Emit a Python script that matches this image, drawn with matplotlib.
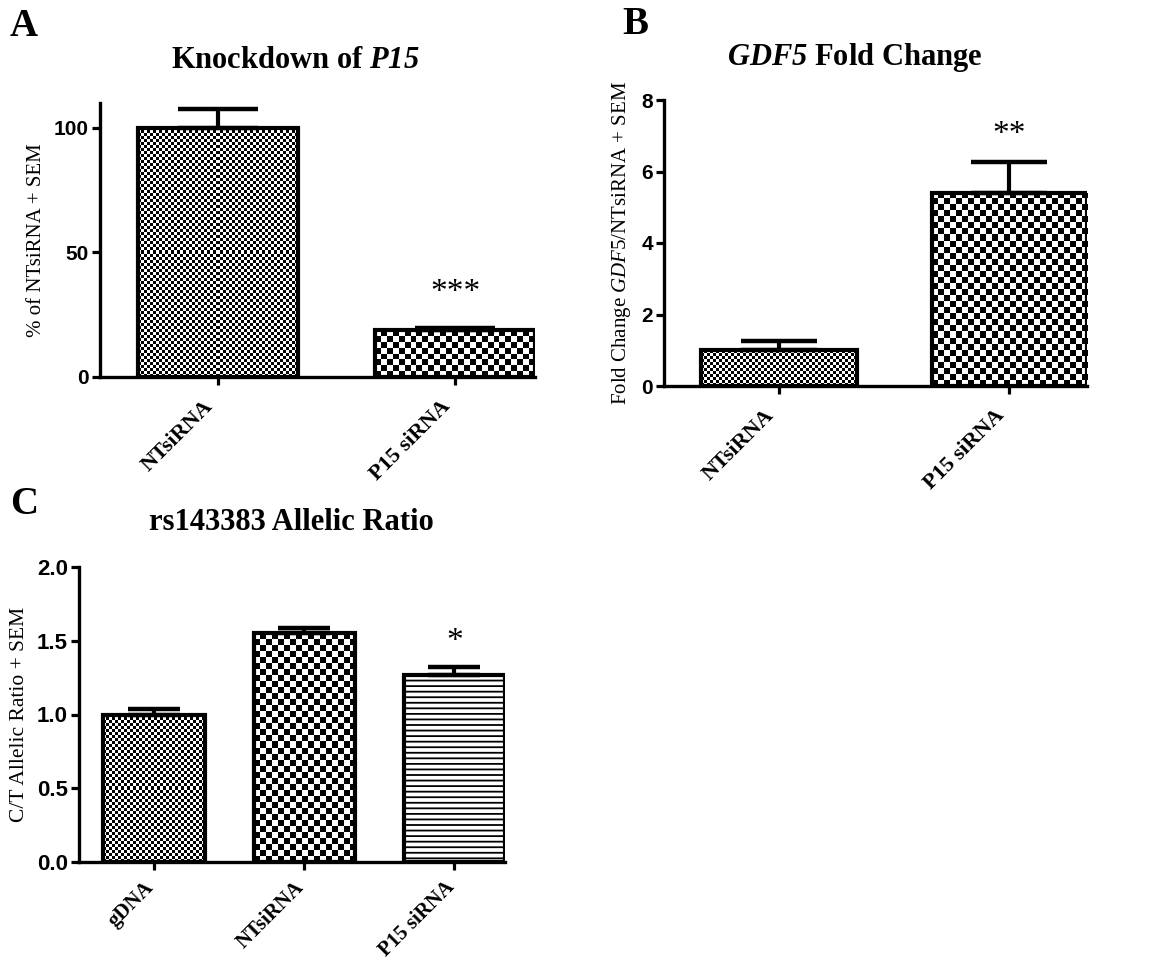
import numpy as np
import matplotlib
matplotlib.use("Agg")
import matplotlib.pyplot as plt
import matplotlib.transforms as mtrans

# Panel A: knockdown of P15
a_groups = ["NTsiRNA", "P15 siRNA"]
a_vals = [100.0, 18.8]
a_sem = [7.6, 0.7]
a_stars = ["", "***"]

# Panel B: GDF5 fold change
b_groups = ["NTsiRNA", "P15 siRNA"]
b_vals = [1.0, 5.4]
b_sem = [0.26, 0.87]
b_stars = ["", "**"]

# Panel C: rs143383 allelic ratio
c_groups = ["gDNA", "NTsiRNA", "P15 siRNA"]
c_vals = [1.0, 1.55, 1.27]
c_sem = [0.04, 0.035, 0.05]
c_stars = ["", "", "*"]

plt.rcParams["font.family"] = ["Liberation Serif", "DejaVu Serif"]
plt.rcParams["mathtext.fontset"] = "custom"
plt.rcParams["mathtext.rm"] = "Liberation Serif"
plt.rcParams["mathtext.it"] = "Liberation Serif:italic"
plt.rcParams["mathtext.bf"] = "Liberation Serif:bold"
plt.rcParams["mathtext.bfit"] = "Liberation Serif:italic:bold"
plt.rcParams["hatch.linewidth"] = 1.3

W, H = 1171, 965
fig = plt.figure(figsize=(W / 100, H / 100), dpi=100)


def px_axes(l, r, t, b):
    return fig.add_axes([l / W, 1 - b / H, (r - l) / W, (b - t) / H])


def add_checker(ax, bar, cell):
    x0, y0 = bar.get_x(), bar.get_y()
    w, h = bar.get_width(), bar.get_height()
    (px0, py0), (px1, py1) = ax.transData.transform([(x0, y0), (x0 + w, y0 + h)])
    nx = max(1, int(round((px1 - px0) / cell)))
    ny = max(1, int(round((py1 - py0) / cell)))
    grid = np.add.outer(np.arange(ny), np.arange(nx)) % 2
    im = ax.imshow(grid, cmap="gray", vmin=0, vmax=1, extent=(x0, x0 + w, y0, y0 + h),
                   interpolation="nearest", aspect="auto", origin="lower", zorder=2)
    im.set_clip_path(bar)


def panel(ax, groups, vals, sem, stars, fills, ylim, yticks, yfmt, ylabel,
          capsize, star_y, ylabel_size=15, tick_size=15, xtick_size=16,
          xpad=13, xshift=-8):
    x = np.arange(len(groups))
    width = 0.675
    ax.set_xlim(-0.5, len(groups) - 1 + width / 2)
    ax.set_ylim(*ylim)
    bars = ax.bar(x, vals, width, facecolor="none", edgecolor="black",
                  linewidth=3, zorder=3)
    for bar, f in zip(bars, fills):
        if f == "lines":
            bar.set_facecolor("white")
            bar.set_hatch("---")
        else:
            add_checker(ax, bar, f)
    ax.errorbar(x, vals, yerr=[np.zeros(len(vals)), sem], fmt="none",
                ecolor="black", elinewidth=3, capsize=capsize, capthick=3.2,
                zorder=4)
    for xi, s in zip(x, stars):
        if s:
            ax.text(xi, star_y, s, ha="center", va="center", fontsize=24)
    ax.set_xlim(-0.5, len(groups) - 1 + width / 2)
    ax.set_ylim(*ylim)

    for side in ["top", "right"]:
        ax.spines[side].set_visible(False)
    for side in ["left", "bottom"]:
        ax.spines[side].set_linewidth(2.4)
    ax.set_yticks(yticks)
    ax.set_yticklabels([yfmt.format(v) for v in yticks],
                       fontfamily="Liberation Sans", fontweight="bold",
                       fontsize=tick_size)
    ax.set_xticks(x)
    ax.set_xticklabels(groups, rotation=45, ha="right", va="center",
                       rotation_mode="anchor", fontweight="bold",
                       fontsize=xtick_size)
    ax.tick_params(axis="both", direction="out", length=6, width=2.3)
    ax.tick_params(axis="y", pad=2)
    ax.tick_params(axis="x", pad=xpad)
    shift = mtrans.ScaledTranslation(xshift / 100, 0, fig.dpi_scale_trans)
    for lab in ax.get_xticklabels():
        lab.set_transform(lab.get_transform() + shift)
    ax.set_ylabel(ylabel, fontsize=ylabel_size, labelpad=6)


axA = px_axes(100, 535, 103, 377)
panel(axA, a_groups, a_vals, a_sem, a_stars, [3, 6], (0, 110), [0, 50, 100],
      "{:.0f}", "% of NTsiRNA + SEM", capsize=28.8, star_y=33.7)

axB = px_axes(664, 1087, 100, 386)
panel(axB, b_groups, b_vals, b_sem, b_stars, [3, 6], (0, 8), [0, 2, 4, 6, 8],
      "{:.0f}", r"Fold Change $\mathit{GDF5}$/NTsiRNA + SEM", capsize=27.7,
      star_y=7.03)

axC = px_axes(79, 505, 567, 862)
panel(axC, c_groups, c_vals, c_sem, c_stars, [3, 6, "lines"], (0, 2),
      [0.0, 0.5, 1.0, 1.5, 2.0], "{:.1f}", "C/T Allelic Ratio + SEM",
      capsize=18.4, star_y=1.49, ylabel_size=15.5, tick_size=16,
      xtick_size=15, xpad=10, xshift=-3)

# panel letters and titles
for lab, px, py in [("A", 10, 27), ("B", 622, 24), ("C", 10, 505)]:
    fig.text(px / W, 1 - py / H, lab, fontsize=28, fontweight="bold",
             ha="left", va="center")

fig.text(295 / W, 1 - 68 / H, r"Knockdown of $\mathbfit{P15}$", fontsize=22,
         fontweight="bold", ha="center", va="baseline")
fig.text(855 / W, 1 - 65 / H, r"$\mathbfit{GDF5}$ Fold Change", fontsize=22,
         fontweight="bold", ha="center", va="baseline")
fig.text(291 / W, 1 - 530 / H, "rs143383 Allelic Ratio", fontsize=22,
         fontweight="bold", ha="center", va="baseline")

fig.savefig("out.png", dpi=100, facecolor="white")
